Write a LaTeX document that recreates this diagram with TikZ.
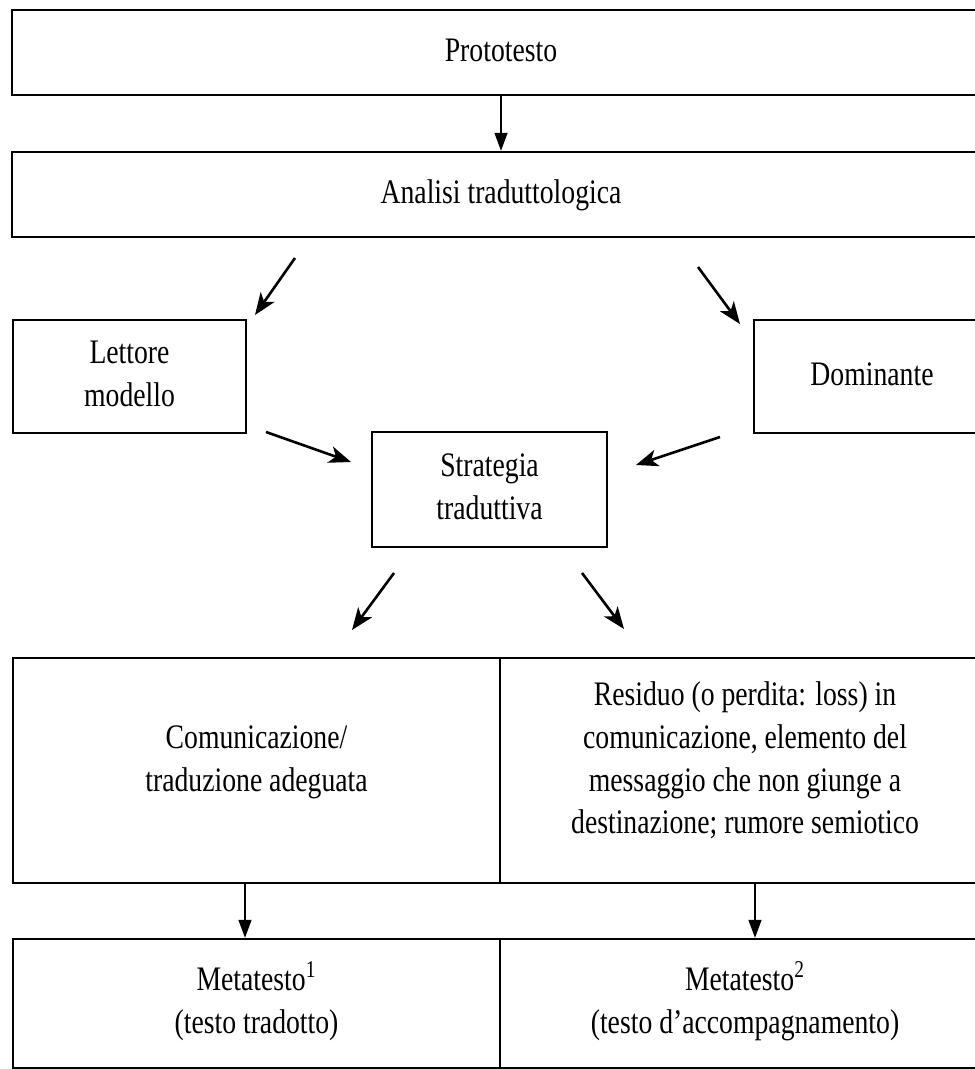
\documentclass[tikz,border=0pt]{standalone}
\usepackage{fontspec}
\setmainfont{Liberation Serif}
\usepackage{graphicx}
\usetikzlibrary{arrows.meta,calc}
\newcommand\vtxt[1]{\scalebox{1}[1.24]{\begin{tabular}{@{}c@{}}#1\end{tabular}}}
\begin{document}
\begin{tikzpicture}[x=0.5pt,y=-0.5pt,
  box/.style 2 args={draw, line width=1.2pt, inner sep=0pt, anchor=center,
    minimum width=#1*0.5pt, minimum height=#2*0.5pt,
    font=\fontsize{13.85}{17.3}\selectfont},
  txt/.style={inner sep=0pt, font=\fontsize{13.85}{17.3}\selectfont},
  varrow/.style={-{Triangle[length=9pt,width=6.5pt]}, line width=0.75pt},
  darrow/.style={-{Stealth[length=11pt,width=8.5pt,inset=3pt]}, line width=1.3pt}]
\useasboundingbox (0,0) rectangle (974,1069);
\fill[white] (0,0) rectangle (974,1069);

% boxes
\node[box={978}{85}] (proto) at (501,52.5) {\vtxt{Prototesto}};
\node[box={978}{85}] (ana) at (501,194.5) {\vtxt{Analisi traduttologica}};
\node[box={233}{113}] (lett) at (129.5,376.5) {\vtxt{Lettore\\modello}};
\node[box={236}{113}] (dom) at (872,376.5) {\vtxt{Dominante}};
\node[box={235}{115}] (strat) at (489.5,489.5) {\vtxt{Strategia\\traduttiva}};
\node[box={487}{225}] (comL) at (256.5,770.5) {};
\node[box={490}{225}] (comR) at (745,770.5) {};
\node[box={487}{129}] (metaL) at (256.5,1003.5) {\vtxt{Metatesto\textsuperscript{1}\\(testo tradotto)}};
\node[box={490}{129}] (metaR) at (745,1003.5) {\vtxt{Metatesto\textsuperscript{2}\\(testo d’accompagnamento)}};

\node[txt] (comLt) at (256.5,761) {\vtxt{Comunicazione/\\traduzione adeguata}};
\node[txt] (comRt) at (745,761) {\vtxt{Residuo (o perdita: loss) in\\comunicazione, elemento del\\messaggio che non giunge a\\destinazione; rumore semiotico}};

% free ends of the diagonal connectors
\coordinate (d1s) at (295,258);  \coordinate (d1e) at (255,315);
\coordinate (d2s) at (698,267);  \coordinate (d2e) at (740,324);
\coordinate (d3s) at (266,432);  \coordinate (d3e) at (351,462);
\coordinate (d4s) at (720,437);  \coordinate (d4e) at (636,465);
\coordinate (d5s) at (394,573);  \coordinate (d5e) at (352,630);
\coordinate (d6s) at (582,573);  \coordinate (d6e) at (624,629);

% connectors
\draw[varrow] (proto.south) -- (ana.north);
\draw[darrow] (d1s) -- (d1e);
\draw[darrow] (d2s) -- (d2e);
\draw[darrow] (d3s) -- (d3e);
\draw[darrow] (d4s) -- (d4e);
\draw[darrow] (d5s) -- (d5e);
\draw[darrow] (d6s) -- (d6e);
\draw[varrow] ($(comL.south)+(-11.5,0)$) -- ($(metaL.north)+(-11.5,0)$);
\draw[varrow] ($(comR.south)+(10,0)$) -- ($(metaR.north)+(10,0)$);
\end{tikzpicture}
\end{document}
